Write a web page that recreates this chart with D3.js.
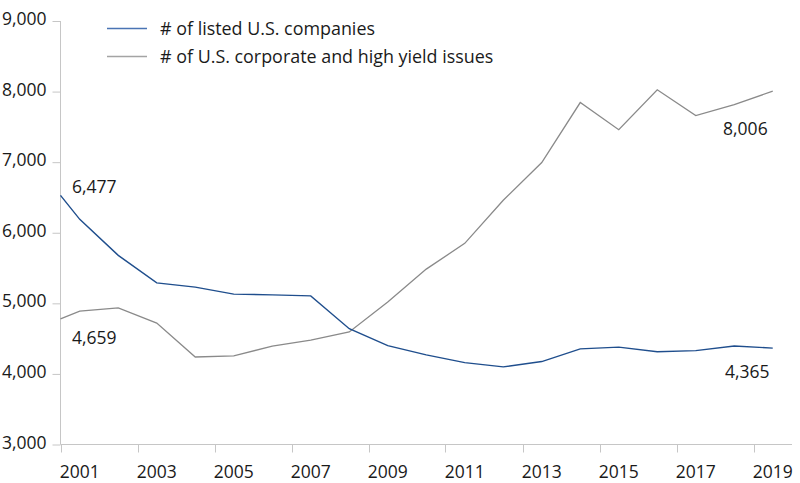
<!DOCTYPE html>
<html>
<head>
<meta charset="utf-8">
<script src="https://cdn.jsdelivr.net/npm/d3@7"></script>
<style>
  body { margin: 0; background: #fff; }
  text { font-family: "Open Sans", sans-serif; fill: #1a1a1a; }
</style>
</head>
<body>
<div class="box"></div>
<script>
// first point sits at the left edge of the 2001 band
const years = [2000.5, 2001, 2002, 2003, 2004, 2005, 2006, 2007, 2008, 2009,
               2010, 2011, 2012, 2013, 2014, 2015, 2016, 2017, 2018, 2019];
const listed = [6530, 6190, 5680, 5290, 5230, 5130, 5120, 5105, 4640, 4400,
                4270, 4160, 4100, 4175, 4355, 4380, 4315, 4330, 4395, 4365];
const issues = [4780, 4890, 4935, 4720, 4240, 4255, 4395, 4480, 4595, 5020,
                5485, 5850, 6460, 6995, 7845, 7460, 8025, 7660, 7815, 8006];
const yTicks = [3000, 4000, 5000, 6000, 7000, 8000, 9000];
const xLabels = [2001, 2003, 2005, 2007, 2009, 2011, 2013, 2015, 2017, 2019];
const seriesNames = ['# of listed U.S. companies', '# of U.S. corporate and high yield issues'];
const callouts = [
  {text: '6,477', x: 2000.8, y: 6563},
  {text: '4,659', x: 2000.8, y: 4425},
  {text: '8,006', x: 2017.71, y: 7385},
  {text: '4,365', x: 2017.76, y: 3942}
];

const dims = {width: 800, height: 483};
const axisColor = '#c6c6c6';
const fontSize = '17.5px';

const svg = d3.select('.box')
              .append('svg')
              .attr('width', dims.width)
              .attr('height', dims.height);

const x = d3.scaleLinear().domain([2000.5, 2019.5]).range([60.5, 792]);
const y = d3.scaleLinear().domain([3000, 9000]).range([444.5, 21]);

// y axis
const yAxis = svg.append('g')
                 .attr('transform', 'translate(60.5,0)')
                 .call(d3.axisLeft(y).tickValues(yTicks).tickSize(8).tickPadding(6)
                         .tickFormat(d3.format(',')));
yAxis.select('.domain').attr('stroke', axisColor).attr('d', `M0,${y(9000)}V${y(3000)}`);
yAxis.selectAll('line').attr('stroke', axisColor);
yAxis.selectAll('text').style('font-size', fontSize).attr('fill', '#1a1a1a').attr('dy', '0.2em');

// x axis: ticks at band edges, labels at band centres
const xAxis = svg.append('g').attr('transform', `translate(0,${y(3000)})`);
xAxis.append('line')
     .attr('x1', x(2000.5)).attr('x2', x(2019.5))
     .attr('stroke', axisColor);
xAxis.selectAll('.tk')
     .data(xLabels)
     .enter().append('line')
     .attr('x1', d => Math.round(x(d - 0.5)) + 0.5)
     .attr('x2', d => Math.round(x(d - 0.5)) + 0.5)
     .attr('y1', 0).attr('y2', 8)
     .attr('stroke', axisColor);
xAxis.selectAll('.lb')
     .data(xLabels)
     .enter().append('text')
     .attr('x', d => x(d))
     .attr('y', 33)
     .attr('text-anchor', 'middle')
     .style('font-size', fontSize)
     .text(d => d);

const line = d3.line().x((d, i) => x(years[i])).y(d => y(d));

svg.append('path').datum(issues)
   .attr('d', line).attr('fill', 'none')
   .attr('stroke', '#8a8a8a').attr('stroke-width', 1.3);
svg.append('path').datum(listed)
   .attr('d', line).attr('fill', 'none')
   .attr('stroke', '#1f4e8d').attr('stroke-width', 1.4);

// legend
const legend = svg.append('g');
const legendColors = ['#4a74b4', '#a4a4a4'];
seriesNames.forEach((name, i) => {
  const ly = 28.5 + i * 28;
  legend.append('line')
        .attr('x1', 107).attr('x2', 147).attr('y1', ly).attr('y2', ly)
        .attr('stroke', legendColors[i]).attr('stroke-width', 1.3);
  legend.append('text')
        .attr('x', 160).attr('y', ly + 6)
        .style('font-size', '17.9px')
        .text(name);
});

// value call-outs
svg.selectAll('.callout')
   .data(callouts)
   .enter().append('text')
   .attr('x', d => x(d.x))
   .attr('y', d => y(d.y))
   .style('font-size', fontSize)
   .text(d => d.text);
</script>
</body>
</html>
